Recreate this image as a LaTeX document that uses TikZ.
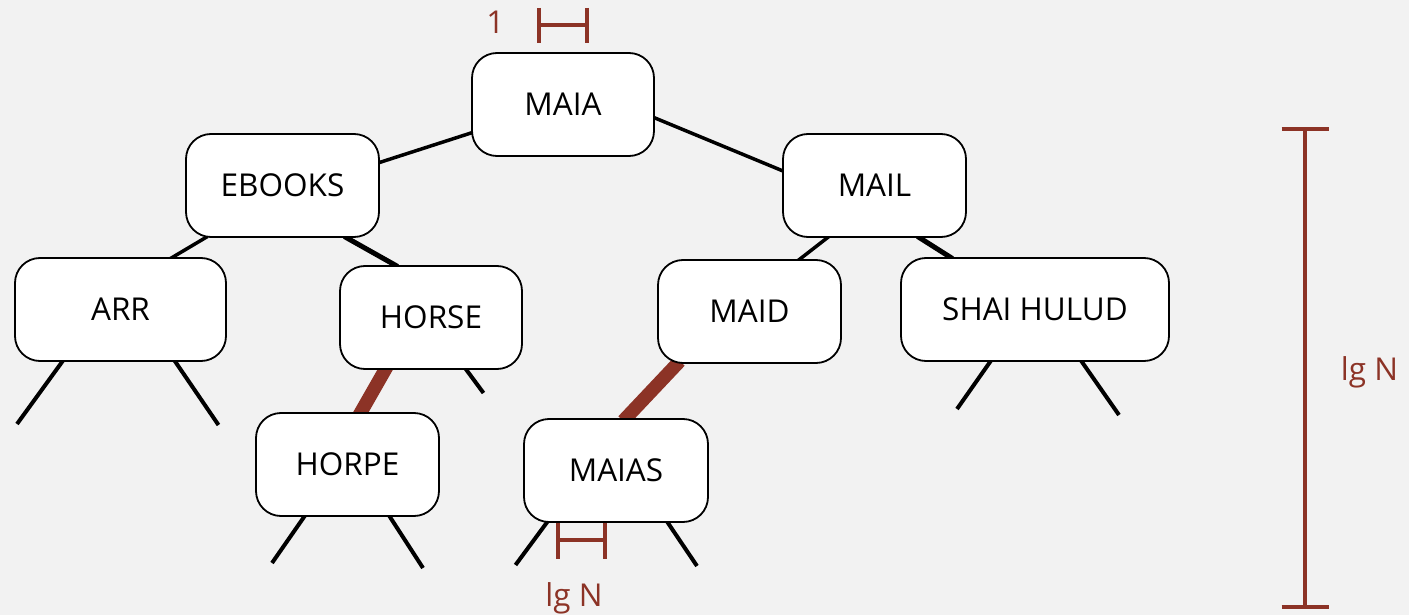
\documentclass[tikz,border=0pt]{standalone}
\usepackage{fontspec}
\setmainfont{Open Sans}
\usetikzlibrary{calc}
\pgfdeclarelayer{bg}
\pgfdeclarelayer{edges}
\pgfsetlayers{bg,edges,main}
\definecolor{paper}{RGB}{242,242,242}
\definecolor{rust}{RGB}{140,51,38}

\begin{document}
\begin{tikzpicture}[x=1pt,y=-1pt,
  key/.style={draw=black, line width=1.8pt, fill=white, rounded corners=25pt,
    minimum height=103pt, inner sep=0pt,
    font=\fontsize{31.5}{37}\selectfont},
  link/.style={line width=3.5pt, black, shorten <=-3pt, shorten >=-3pt},
  heavylink/.style={line width=5pt, black, shorten <=-3pt, shorten >=-3pt},
  pathlink/.style={line width=13.5pt, rust, shorten <=-4pt, shorten >=-4pt},
  stub/.style={line width=4pt, black, shorten <=-3pt},
  measure/.style={line width=4pt, rust},
  measurelabel/.style={text=rust, anchor=base, inner sep=0pt,
    font=\fontsize{31.5}{37}\selectfont}]

\useasboundingbox (0,0) rectangle (1409,615);
\begin{pgfonlayer}{bg}
  \fill[paper] (0,0) rectangle (1409,615);
\end{pgfonlayer}

% keys of the tree
\node[key, minimum width=182pt] (maia)   at (563,104.5)   {MAIA};
\node[key, minimum width=193pt] (ebooks) at (282.5,185.5) {EBOOKS};
\node[key, minimum width=183pt] (mail)   at (874.5,185.5) {MAIL};
\node[key, minimum width=211pt] (arr)    at (120.5,309.5) {ARR};
\node[key, minimum width=182pt] (horse)  at (431,317.5)   {HORSE};
\node[key, minimum width=183pt] (maid)   at (749.5,311.5) {MAID};
\node[key, minimum width=268pt] (shai)   at (1035,309.5)  {SHAI HULUD};
\node[key, minimum width=183pt] (horpe)  at (347.5,464.5) {HORPE};
\node[key, minimum width=184pt] (maias)  at (616,470.5)   {MAIAS};

% links, kept behind the keys
\begin{pgfonlayer}{edges}
  \draw[link] ($(maia.center)+(-92,28.5)$) -- ($(ebooks.center)+(98.5,-23.5)$);
  \draw[link] ($(maia.center)+(92,13.5)$) -- ($(mail.center)+(-91.5,-14.5)$);
  \draw[link] ($(ebooks.center)+(-77.5,52.5)$) -- ($(arr.center)+(52.5,-52.5)$);
  \draw[heavylink] ($(ebooks.center)+(64.5,52.5)$) -- ($(horse.center)+(-36,-52.5)$);
  \draw[link] ($(mail.center)+(-47.5,52.5)$) -- ($(maid.center)+(50.5,-52.5)$);
  \draw[heavylink] ($(mail.center)+(45.5,52.5)$) -- ($(shai.center)+(-85,-52.5)$);

  % search path
  \draw[pathlink] ($(horse.center)+(-46,52.5)$) -- ($(horpe.center)+(13.5,-52.5)$);
  \draw[pathlink] ($(maid.center)+(-72.5,52.5)$) -- ($(maias.center)+(10,-52.5)$);

  % null links
  \draw[stub] ($(arr.center)+(-58.5,52.5)$) -- ++(-45,62);
  \draw[stub] ($(arr.center)+(55,52.5)$) -- ++(43,63);
  \draw[stub] ($(horse.center)+(35.5,52.5)$) -- ++(17,23);
  \draw[stub] ($(horpe.center)+(-43.5,52.5)$) -- ++(-32,46);
  \draw[stub] ($(horpe.center)+(42.5,52.5)$) -- ++(33,51);
  \draw[stub] ($(maias.center)+(-69.5,52.5)$) -- ++(-31,42);
  \draw[stub] ($(maias.center)+(52,52.5)$) -- ++(29,43);
  \draw[stub] ($(shai.center)+(-45,52.5)$) -- ++(-33,47);
  \draw[stub] ($(shai.center)+(47,52.5)$) -- ++(37,53);

  % cost of one step, below the last key
  \draw[measure] (557.5,520) -- (557.5,559) (605.3,520) -- (605.3,559)
                 (557.5,540.3) -- (605.3,540.3);
\end{pgfonlayer}

% cost of one step, above the root
\draw[measure] (539,8) -- (539,43) (587,8) -- (587,43) (539,25.5) -- (587,25.5);
\node[measurelabel] (one) at (495.5,33.3) {1};

\node[measurelabel] (lgbottom) at (574,606.5) {lg N};

% height of the tree
\draw[measure] (1305,129.3) -- (1305,606.7)
               (1281.7,129.3) -- (1329,129.3) (1281.7,606.7) -- (1329,606.7);
\node[measurelabel] (lgright) at (1369.5,380) {lg N};

\end{tikzpicture}
\end{document}
